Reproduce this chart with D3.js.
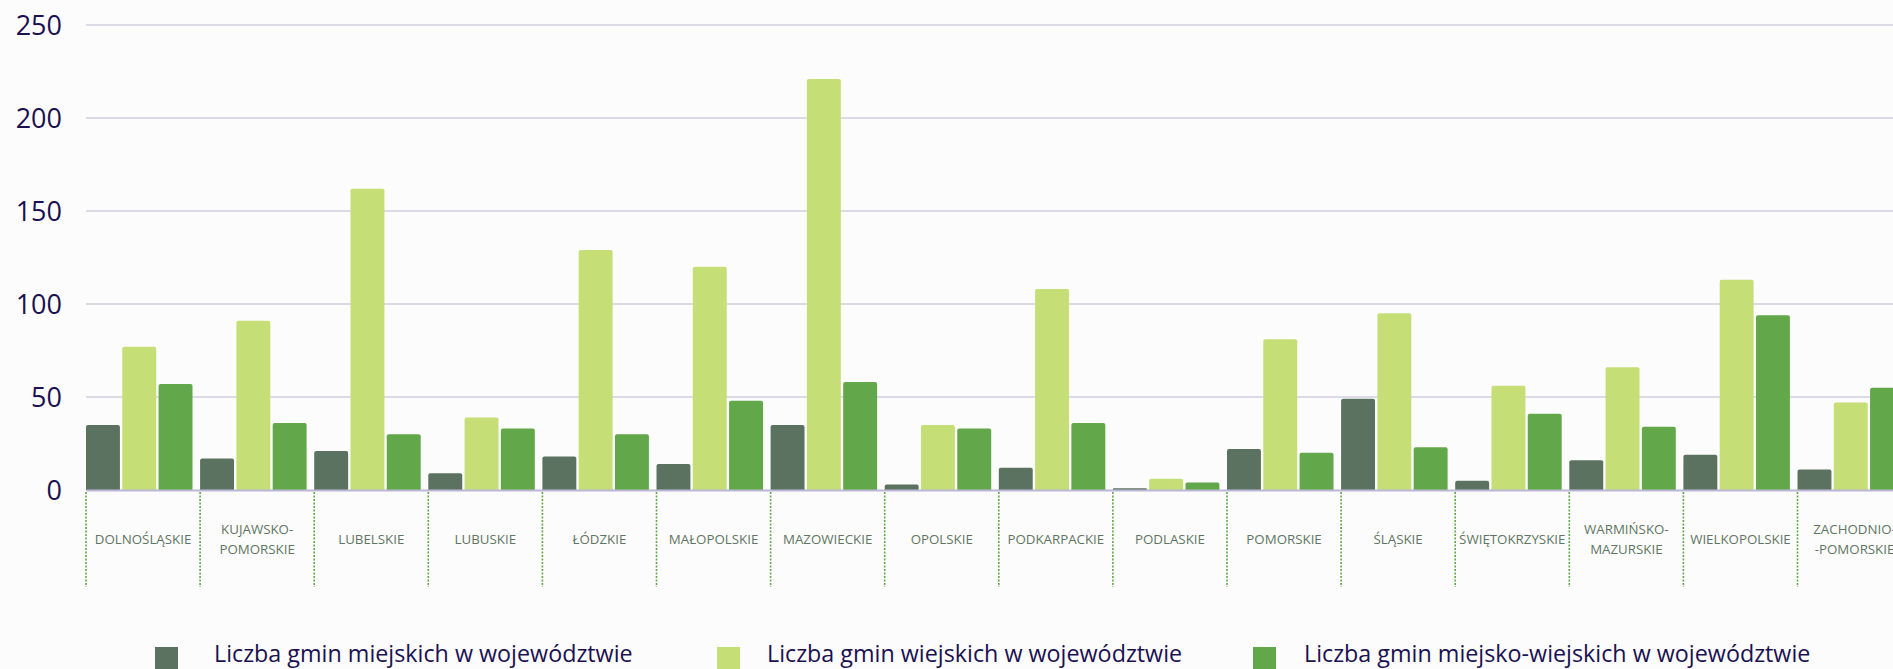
<!DOCTYPE html>
<html>
<head>
<meta charset="utf-8">
<script src="https://cdn.jsdelivr.net/npm/d3@7"></script>
<style>
  html, body { margin: 0; padding: 0; background: #fcfcfc; overflow: hidden; }
  svg { display: block; }
</style>
</head>
<body>
<svg id="chart" width="1893" height="669"></svg>
<script>
const categories = ["DOLNOŚLĄSKIE", "KUJAWSKO-\nPOMORSKIE", "LUBELSKIE", "LUBUSKIE", "ŁÓDZKIE", "MAŁOPOLSKIE",
  "MAZOWIECKIE", "OPOLSKIE", "PODKARPACKIE", "PODLASKIE", "POMORSKIE", "ŚLĄSKIE", "ŚWIĘTOKRZYSKIE",
  "WARMIŃSKO-\nMAZURSKIE", "WIELKOPOLSKIE", "ZACHODNIO-\n-POMORSKIE"];
const seriesNames = ["Liczba gmin miejskich w województwie", "Liczba gmin wiejskich w województwie", "Liczba gmin miejsko-wiejskich w województwie"];
const miejskie =        [35, 17, 21,  9, 18, 14,  35,  3,  12, 1, 22, 49,  5, 16,  19, 11];
const wiejskie =        [77, 91, 162, 39, 129, 120, 221, 35, 108, 6, 81, 95, 56, 66, 113, 47];
const miejskoWiejskie = [57, 36, 30, 33, 30, 48,  58, 33,  36, 4, 20, 23, 41, 34,  94, 55];
const yTicks = [0, 50, 100, 150, 200, 250];
const colors = ["#5c7260", "#c5de75", "#62a749"];

const seriesValues = [miejskie, wiejskie, miejskoWiejskie];
const W = 1893, H = 669;
const svg = d3.select("#chart");
svg.append("rect").attr("width", W).attr("height", H).attr("fill", "#fcfcfc");

const left = 86, bandStep = 114.1, zeroY = 490, topY = 25;
const x0 = d3.scaleBand().domain(categories).range([left, left + bandStep * categories.length]).padding(0);
const x1 = d3.scaleBand().domain(d3.range(seriesNames.length)).range([0, 106.5]).paddingInner(0.065).paddingOuter(0);
const y = d3.scaleLinear().domain([0, 250]).range([zeroY, topY]);

// gridlines
svg.append("g").selectAll("line").data(yTicks.filter(d => d > 0)).join("line")
  .attr("x1", left).attr("x2", W)
  .attr("y1", d => y(d)).attr("y2", d => y(d))
  .attr("stroke", "#d2cfe2").attr("stroke-width", 1.4);

// y axis labels
const yAxis = d3.axisLeft(y).tickValues(yTicks).tickSize(0).tickPadding(0);
const yg = svg.append("g").attr("transform", `translate(62,0)`).call(yAxis);
yg.select(".domain").remove();
yg.selectAll("text").attr("font-family", "'Open Sans', sans-serif").attr("font-size", 27)
  .attr("fill", "#1b1150").attr("dy", "0.35em");

// bars
const groups = svg.append("g").selectAll("g").data(categories).join("g")
  .attr("transform", d => `translate(${x0(d)},0)`);
groups.selectAll("path").data((d, i) => seriesValues.map((s, k) => ({k, v: s[i]}))).join("path")
  .attr("fill", d => colors[d.k])
  .attr("d", d => {
    const x = x1(d.k), w = x1.bandwidth(), yt = y(d.v), h = zeroY - yt;
    const r = Math.min(2, h / 2);
    return `M${x},${zeroY}V${yt + r}Q${x},${yt} ${x + r},${yt}H${x + w - r}Q${x + w},${yt} ${x + w},${yt + r}V${zeroY}Z`;
  });

// zero axis line
svg.append("line").attr("x1", left).attr("x2", W).attr("y1", zeroY + 0.5).attr("y2", zeroY + 0.5)
  .attr("stroke", "#bcb7d6").attr("stroke-width", 2);

// dotted separators
svg.append("g").selectAll("line").data(categories).join("line")
  .attr("x1", d => x0(d)).attr("x2", d => x0(d))
  .attr("y1", zeroY + 2).attr("y2", 587)
  .attr("stroke", "#62a749").attr("stroke-width", 1.6).attr("stroke-dasharray", "2,1.5");

// category labels
const labels = svg.append("g").selectAll("text").data(categories).join("text")
  .attr("x", d => x0(d) + x0.bandwidth() / 2)
  .attr("y", 539)
  .attr("text-anchor", "middle")
  .attr("font-family", "'Open Sans', sans-serif").attr("font-size", 13.3)
  .attr("fill", "#5f7563");
labels.each(function(d) {
  const lines = d.split("\n");
  const t = d3.select(this);
  lines.forEach((ln, i) => {
    t.append("tspan").attr("x", x0(d) + x0.bandwidth() / 2)
      .attr("y", 539 + (i - (lines.length - 1) / 2) * 20)
      .attr("dy", "0.35em").text(ln);
  });
});

// legend
const legendX = [155, 717, 1253];
const leg = svg.append("g").selectAll("g").data(seriesNames).join("g")
  .attr("transform", (d, i) => `translate(${legendX[i]},647)`);
leg.append("rect").attr("width", 23).attr("height", 24).attr("fill", (d, i) => colors[i]);
leg.append("text").attr("x", (d, i) => [59, 50, 51][i]).attr("y", 15)
  .attr("font-family", "'Open Sans', sans-serif").attr("font-size", 23.3)
  .attr("fill", "#1b1150").text(d => d);
</script>
</body>
</html>
